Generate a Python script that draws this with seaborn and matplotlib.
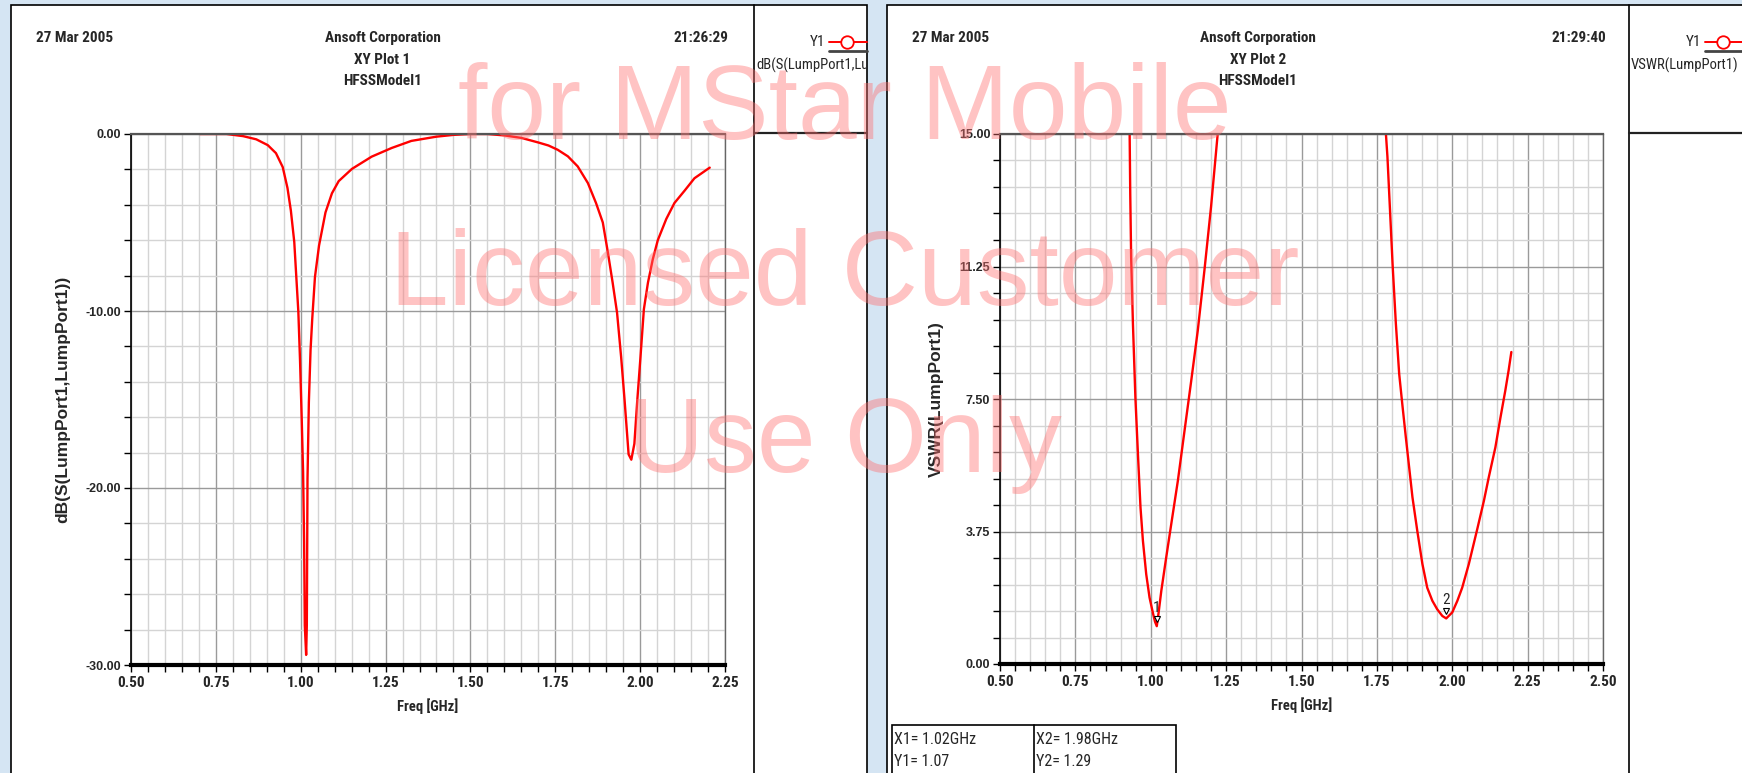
import os
import matplotlib
matplotlib.use('Agg')
import matplotlib.pyplot as plt
import matplotlib.transforms as mtransforms
from matplotlib.lines import Line2D
from matplotlib.patches import Rectangle
from matplotlib.ticker import MultipleLocator, FixedLocator, FixedFormatter
from matplotlib import font_manager
from matplotlib.font_manager import FontProperties
import seaborn as sns

# ---- data ----
s11_freq = [0.703, 0.781, 0.830, 0.869, 0.903, 0.927, 0.947, 0.961, 0.971, 0.981,
            0.987, 0.993, 0.998, 1.003, 1.007, 1.010, 1.012, 1.016, 1.018, 1.020,
            1.024, 1.029, 1.034, 1.042, 1.054, 1.073, 1.092, 1.112, 1.151, 1.209,
            1.268, 1.326, 1.400, 1.450, 1.500, 1.550, 1.600, 1.650, 1.700, 1.730,
            1.757, 1.787, 1.816, 1.846, 1.870, 1.890, 1.905, 1.919, 1.932, 1.944,
            1.954, 1.966, 1.974, 1.983, 1.991, 2.001, 2.011, 2.023, 2.037, 2.052,
            2.077, 2.101, 2.131, 2.160, 2.205]
s11_db = [0.0, 0.0, -0.12, -0.30, -0.63, -1.08, -1.87, -3.05, -4.33, -6.10,
          -8.07, -10.04, -12.80, -16.14, -19.09, -23.03, -27.76, -29.43, -27.76, -19.49,
          -15.16, -12.20, -10.43, -8.07, -6.30, -4.43, -3.35, -2.66, -1.97, -1.28,
          -0.79, -0.39, -0.15, -0.05, 0.0, 0.0, -0.08, -0.22, -0.48, -0.65,
          -0.89, -1.26, -1.83, -2.77, -3.90, -5.00, -6.70, -8.40, -10.10, -12.60,
          -15.00, -18.10, -18.40, -17.50, -15.20, -12.60, -9.90, -8.40, -7.10, -6.00,
          -4.80, -3.90, -3.20, -2.50, -1.90]

# VSWR is clipped at 15, so only the two visible branches are kept
vswr1_freq = [0.930, 0.932, 0.935, 0.941, 0.949, 0.958, 0.966, 0.974, 0.985, 0.996,
              1.007, 1.014, 1.020, 1.026, 1.035, 1.051, 1.068, 1.090, 1.112, 1.134,
              1.156, 1.178, 1.200, 1.222]
vswr1 = [15.0, 13.3, 11.5, 9.6, 7.55, 5.85, 4.43, 3.49, 2.54, 1.88,
         1.45, 1.20, 1.07, 1.45, 2.07, 3.0, 3.96, 5.19, 6.6, 8.0,
         9.44, 11.14, 12.94, 15.0]
vswr2_freq = [1.780, 1.785, 1.793, 1.802, 1.813, 1.824, 1.835, 1.846, 1.857, 1.868,
              1.884, 1.901, 1.917, 1.934, 1.950, 1.967, 1.980, 2.000, 2.017, 2.033,
              2.055, 2.083, 2.105, 2.121, 2.143, 2.160, 2.176, 2.187, 2.196]
vswr2 = [15.0, 14.36, 12.94, 11.33, 9.63, 8.21, 7.30, 6.42, 5.57, 4.72,
         3.77, 2.83, 2.16, 1.79, 1.55, 1.36, 1.29, 1.46, 1.79, 2.16,
         2.83, 3.82, 4.62, 5.28, 6.13, 6.98, 7.74, 8.31, 8.83]

marker_names = ['1', '2']
marker_freq = [1.02, 1.98]
marker_vswr = [1.07, 1.29]

s11_xticks = [0.50, 0.75, 1.00, 1.25, 1.50, 1.75, 2.00, 2.25]
s11_xlabels = ['0.50', '0.75', '1.00', '1.25', '1.50', '1.75', '2.00', '2.25']
s11_yticks = [-30, -20, -10, 0]
s11_ylabels = ['-30.00', '-20.00', '-10.00', '0.00']
vswr_xticks = [0.50, 0.75, 1.00, 1.25, 1.50, 1.75, 2.00, 2.25, 2.50]
vswr_xlabels = ['0.50', '0.75', '1.00', '1.25', '1.50', '1.75', '2.00', '2.25', '2.50']
vswr_yticks = [0.0, 3.75, 7.5, 11.25, 15.0]
vswr_ylabels = ['0.00', '3.75', '7.50', '11.25', '15.00']

W, H = 1742, 773
RED = '#ff0000'

sns.set_theme(style='white')
available = {f.name for f in font_manager.fontManager.ttflist}
ARIAL = 'Liberation Sans' if 'Liberation Sans' in available else 'DejaVu Sans'
plt.rcParams['font.family'] = [ARIAL, 'DejaVu Sans']


def pick_condensed(bold):
    # the Ansoft report uses an Arial Narrow look; take the best condensed sans we have
    prefs = ['liberation sans narrow', 'arial narrow', 'roboto condensed', 'noto sans',
             'dejavu sans', 'open sans', 'liberation sans', 'roboto', 'lato', 'inter']
    best, best_score = None, None
    for f in font_manager.fontManager.ttflist:
        nm = f.name.lower()
        base = os.path.basename(f.fname).lower()
        stretch = str(f.stretch).lower()
        cond = 'narrow' in nm or 'narrow' in base or 'condensed' in nm or 'condensed' in base \
            or stretch in ('condensed', 'semi-condensed')
        if not cond or f.style != 'normal' or 'mono' in nm or 'serif' in nm.replace('sans', ''):
            continue
        rank = next((i for i, p in enumerate(prefs) if nm.startswith(p)), len(prefs))
        extra = 1 if ('extra' in base or 'ultra' in base or 'extra' in stretch) else 0
        semi = 1 if ('semi' in base or 'semi' in stretch) else 0
        w = f.weight if isinstance(f.weight, int) else {'bold': 700, 'normal': 400}.get(f.weight, 400)
        score = rank * 10000 + extra * 3000 + semi * 1000 + abs(w - (700 if bold else 400))
        if best_score is None or score < best_score:
            best, best_score = f, score
    return best.fname if best is not None else None


NARROW_BOLD = pick_condensed(True)
NARROW_REG = pick_condensed(False)


def narrow(size, bold=False):
    path = NARROW_BOLD if bold else NARROW_REG
    if path:
        return FontProperties(fname=path, size=size)
    return FontProperties(family=ARIAL, size=size * 0.9, weight='bold' if bold else 'normal')


def fx(px):
    return px / W


def fy(py):
    return 1 - py / H


fig = plt.figure(figsize=(W / 100, H / 100), dpi=100)
fig.patch.set_facecolor('#d5e5f3')

# white report panels with legend column
for left, sep, right in [(11, 754, 867), (887, 1629, 1760)]:
    fig.add_artist(Rectangle((fx(left), -0.05), fx(right) - fx(left), fy(5) + 0.05,
                             transform=fig.transFigure, facecolor='white',
                             edgecolor='black', lw=1.2, zorder=-2))
    fig.add_artist(Line2D([fx(sep), fx(sep)], [0, fy(5)], transform=fig.transFigure,
                          color='black', lw=1.2, zorder=-1))
    fig.add_artist(Line2D([fx(sep), fx(right)], [fy(133), fy(133)],
                          transform=fig.transFigure, color='#222222', lw=1.6, zorder=-1))


def setup_axes(ax, xlim, ylim, xticks, xlabels, yticks, ylabels, xminor, yminor, ylabel, ylabel_x):
    ax.set_xlim(*xlim)
    ax.set_ylim(*ylim)
    ax.xaxis.set_major_locator(FixedLocator(xticks))
    ax.xaxis.set_major_formatter(FixedFormatter(xlabels))
    ax.yaxis.set_major_locator(FixedLocator(yticks))
    ax.yaxis.set_major_formatter(FixedFormatter(ylabels))
    ax.xaxis.set_minor_locator(MultipleLocator(xminor))
    ax.yaxis.set_minor_locator(MultipleLocator(yminor))
    ax.set_axisbelow(True)
    ax.grid(which='major', color='#9a9a9a', lw=1.0)
    ax.grid(which='minor', color='#d4d4d4', lw=1.0)
    ax.tick_params(which='both', direction='out', length=5, width=1, color='black',
                   left=True, bottom=True, top=False, right=False)
    ax.tick_params(axis='x', which='major', pad=3)
    ax.tick_params(axis='y', which='major', pad=2, labelsize=9)
    for lab in ax.get_xticklabels():
        lab.set_fontproperties(narrow(11, bold=True))
    for lab in ax.get_yticklabels():
        lab.set_fontweight('bold')
    ax.spines['left'].set_color('black')
    ax.spines['left'].set_linewidth(1.2)
    ax.spines['bottom'].set_color('black')
    ax.spines['bottom'].set_linewidth(3)
    ax.spines['top'].set_color('#555555')
    ax.spines['top'].set_linewidth(1.6)
    ax.spines['right'].set_color('#666666')
    ax.spines['right'].set_linewidth(1.0)
    ax.set_xlabel('Freq [GHz]', fontproperties=narrow(10.5, bold=True))
    ax.xaxis.set_label_coords(0.5, -0.077)
    ax.xaxis.label.set_va('center')
    ax.set_ylabel(ylabel, fontweight='bold', fontsize=12.5)
    ax.yaxis.set_label_coords(ylabel_x, 0.5)
    ax.yaxis.label.set_va('center')


ax1 = fig.add_axes([fx(131), fy(665), fx(725) - fx(131), fy(134) - fy(665)])
ax2 = fig.add_axes([fx(1000), fy(664), fx(1603) - fx(1000), fy(134) - fy(664)])
ax1.set_facecolor('white')
ax2.set_facecolor('white')

sns.lineplot(x=s11_freq, y=s11_db, ax=ax1, color=RED, linewidth=1.7)
sns.lineplot(x=vswr1_freq, y=vswr1, ax=ax2, color=RED, linewidth=1.7)
sns.lineplot(x=vswr2_freq, y=vswr2, ax=ax2, color=RED, linewidth=1.7)

setup_axes(ax1, (0.5, 2.25), (-30, 0), s11_xticks, s11_xlabels, s11_yticks, s11_ylabels,
           0.05, 2, 'dB(S(LumpPort1,LumpPort1))', -0.115)
setup_axes(ax2, (0.5, 2.5), (0, 15), vswr_xticks, vswr_xlabels, vswr_yticks, vswr_ylabels,
           0.05, 0.75, 'VSWR(LumpPort1)', -0.105)

# marker flags on the VSWR curve
for name, mx, my in zip(marker_names, marker_freq, marker_vswr):
    tri = mtransforms.offset_copy(ax2.transData, fig=fig, x=0, y=5, units='points')
    ax2.plot([mx], [my], marker='v', ms=4.5, mfc='white', mec='black', mew=0.8,
             transform=tri, zorder=5)
    ax2.annotate(name, xy=(mx, my), xytext=(0, 8), textcoords='offset points',
                 ha='center', va='bottom', fontproperties=narrow(11), zorder=5)

# headers
for left, sep, right, title, clock in [(11, 754, 725, 'XY Plot 1', '21:26:29'),
                                       (887, 1629, 1603, 'XY Plot 2', '21:29:40')]:
    mid = (left + sep) / 2
    hp = narrow(11, bold=True)
    fig.text(fx(left + 25), fy(38), '27 Mar 2005', ha='left', va='center', fontproperties=hp)
    fig.text(fx(mid), fy(38), 'Ansoft Corporation', ha='center', va='center', fontproperties=hp)
    fig.text(fx(mid), fy(60), title, ha='center', va='center', fontproperties=hp)
    fig.text(fx(mid), fy(81), 'HFSSModel1', ha='center', va='center', fontproperties=hp)
    fig.text(fx(right + 3), fy(38), clock, ha='right', va='center', fontproperties=hp)

# legend column entries
for sep, right, y1x, name in [(754, 867, 825, 'dB(S(LumpPort1,LumpPort1))'),
                              (1629, 1742, 1701, 'VSWR(LumpPort1)')]:
    fig.text(fx(y1x), fy(42), 'Y1', ha='right', va='center', fontproperties=narrow(11))
    fig.add_artist(Line2D([fx(y1x + 4), fx(right)], [fy(42), fy(42)], transform=fig.transFigure,
                          color=RED, lw=1.4))
    fig.add_artist(Line2D([fx(y1x + 22)], [fy(42)], transform=fig.transFigure, marker='o',
                          ms=9, mfc='white', mec=RED, mew=1.3))
    fig.add_artist(Line2D([fx(y1x + 4), fx(right)], [fy(51), fy(51)], transform=fig.transFigure,
                          color='#444444', lw=2))
    t = fig.text(fx(sep + 2), fy(65), name, ha='left', va='center', fontproperties=narrow(10.5))
    t.set_clip_box(mtransforms.TransformedBbox(
        mtransforms.Bbox.from_extents(fx(sep), 0, fx(right - 1), 1), fig.transFigure))
    t.set_clip_on(True)

# marker readout table
fig.add_artist(Rectangle((fx(892), -0.05), fx(1176) - fx(892), fy(725) + 0.05,
                         transform=fig.transFigure, facecolor='none', edgecolor='black', lw=1.2))
fig.add_artist(Line2D([fx(1034), fx(1034)], [0, fy(725)], transform=fig.transFigure,
                      color='black', lw=1.2))
for col_x, name, mx, my in zip([894, 1036], marker_names, marker_freq, marker_vswr):
    fig.text(fx(col_x), fy(739), f'X{name}= {mx:.2f}GHz', ha='left', va='center',
             fontproperties=narrow(11.5))
    fig.text(fx(col_x), fy(762), f'Y{name}= {my:.2f}', ha='left', va='center',
             fontproperties=narrow(11.5))

# licence watermark over everything
for txt, base in [('for MStar Mobile', 139), ('Licensed Customer', 305), ('Use Only', 472)]:
    fig.text(fx(845), fy(base), txt, ha='center', va='baseline', fontsize=76,
             fontfamily=ARIAL, color='#ff7070', alpha=0.42, zorder=20)

fig.savefig('out.png', dpi=100, facecolor=fig.get_facecolor())
